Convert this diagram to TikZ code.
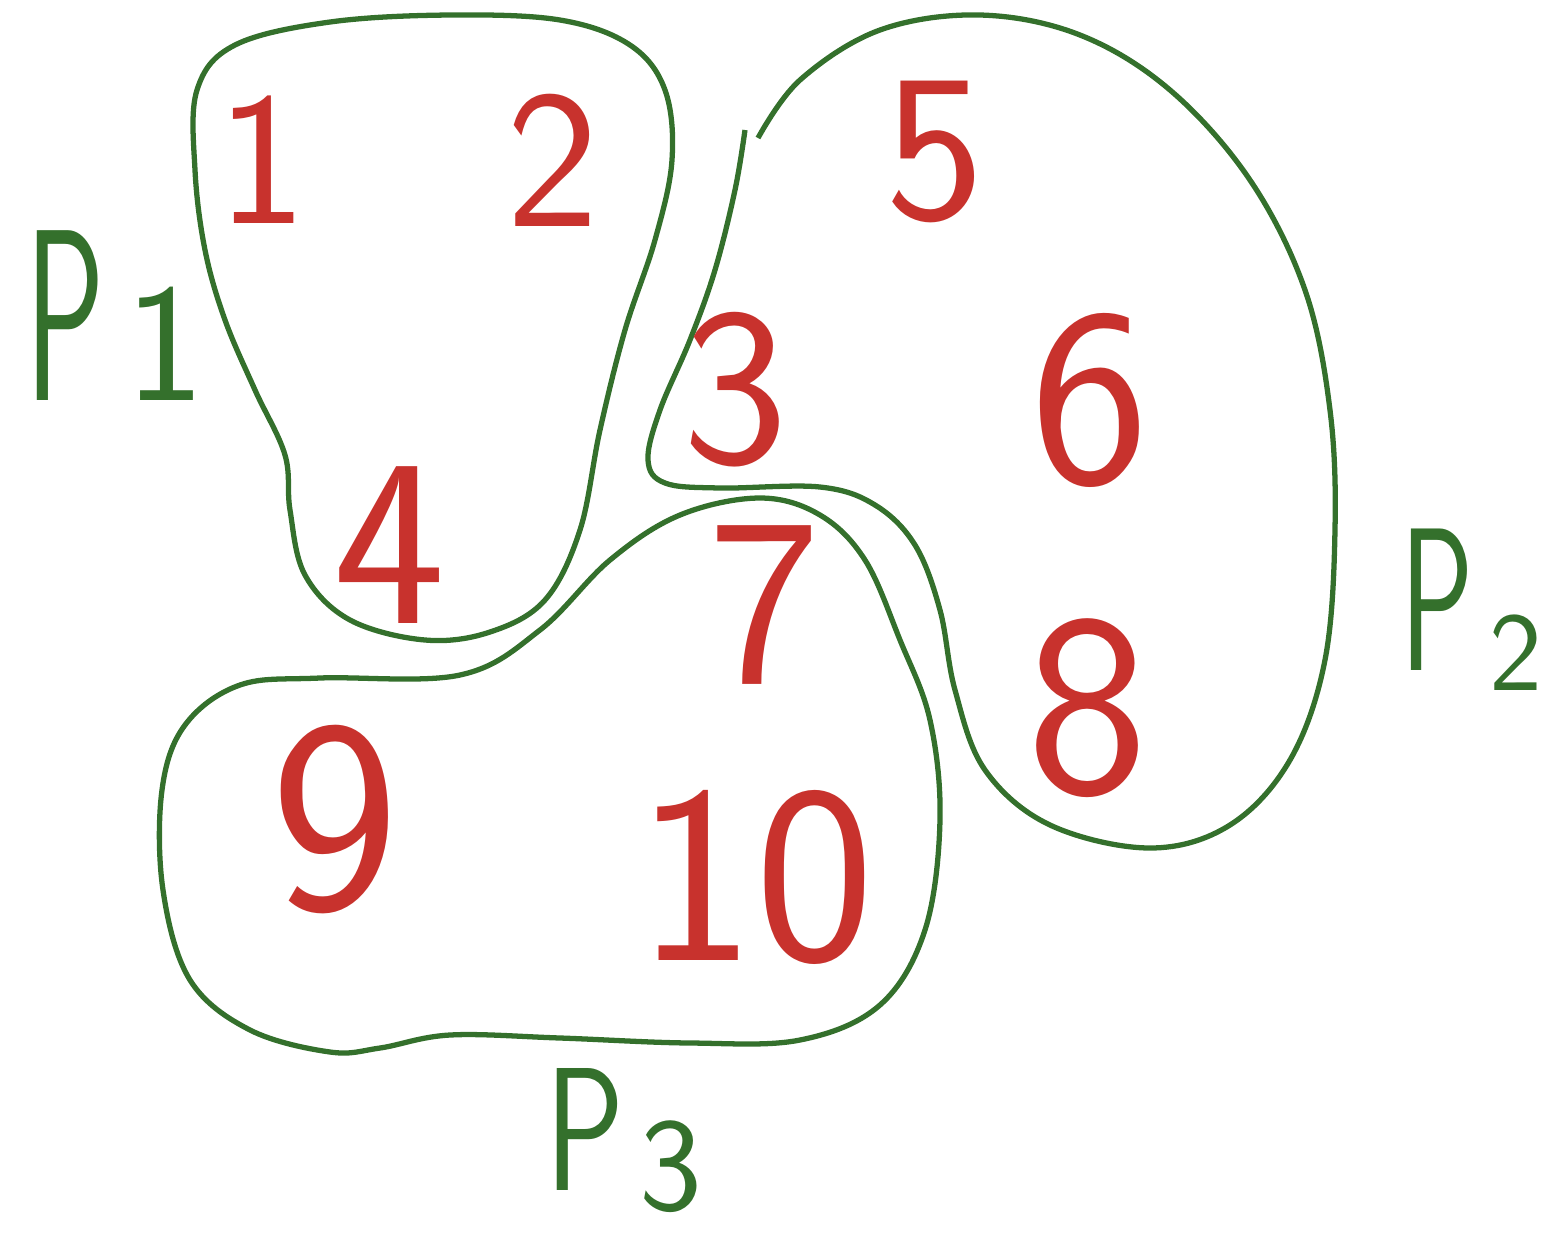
\documentclass[tikz,border=0pt]{standalone}
\usepackage{amsmath}
\usepackage{graphicx}
\usepackage{xcolor}
\usepackage{tikz}
\usetikzlibrary{positioning}

\definecolor{penGreen}{RGB}{52,112,44}
\definecolor{penRed}{RGB}{200,50,45}

\tikzset{
  blob/.style={penGreen, line width=1.5pt, smooth, tension=0.6},
  num/.style={penRed, font=\sffamily},
  part/.style={penGreen, font=\sffamily, inner sep=0pt, anchor=base west}
}

\begin{document}
\begin{tikzpicture}[x=0.01cm, y=-0.01cm]
\useasboundingbox (0,0) rectangle (1553,1235);

\draw[blob] plot[smooth cycle] coordinates {(197,90) (235,45) (330,22) (450,15) (560,20) (630,45) (665,90) (672,160) (655,240) (625,330) (600,430) (580,530) (545,600) (490,632) (425,640) (350,620) (305,575) (290,510) (285,455) (255,390) (225,320) (205,250) (195,170)};

\draw[blob] plot coordinates {(745,130) (735,190) (715,270) (690,340) (660,410) (648,460) (665,483) (720,488) (820,487) (875,505) (915,545) (940,610) (955,690) (985,770) (1050,825) (1150,848) (1230,825) (1290,760) (1325,660) (1335,530) (1330,410) (1305,290) (1250,180) (1170,90) (1080,35) (980,15) (880,30) (800,80) (758,138)};

\draw[blob] plot[smooth cycle] coordinates {(460,675) (540,630) (610,560) (680,515) (760,498) (820,515) (865,560) (900,640) (930,720) (940,820) (925,930) (880,1005) (800,1040) (690,1043) (560,1038) (450,1035) (380,1048) (330,1052) (250,1030) (190,980) (163,890) (162,790) (185,725) (240,685) (320,678)};

\foreach \n/\x/\y/\s in {1/262/160/54, 2/553/160/56, 3/735/390/64, 4/390/545/68, 5/935/152/60, 6/1090/400/72, 7/765/605/68, 8/1088/708/74, 9/335/820/78, 10/755/877/72}
	\node[num](n\n) at (\x,\y) {\fontsize{\s}{\s}\selectfont\n};

\node[part](p1) at (25,400) {\fontsize{58}{60}\selectfont\scalebox{0.65}[1.2]{P}\hspace{0.2cm}\fontsize{48}{50}\selectfont 1};
\node[part](p2) at (1400,670) {\fontsize{58}{60}\selectfont\scalebox{0.6}[1]{P}\hspace{0.15cm}\raisebox{-0.2cm}{\fontsize{32}{34}\selectfont 2}};
\node[part](p3) at (545,1190) {\fontsize{50}{52}\selectfont\scalebox{0.75}[1]{P}\hspace{0.15cm}\raisebox{-0.2cm}{\fontsize{38}{40}\selectfont 3}};

\end{tikzpicture}
\end{document}
